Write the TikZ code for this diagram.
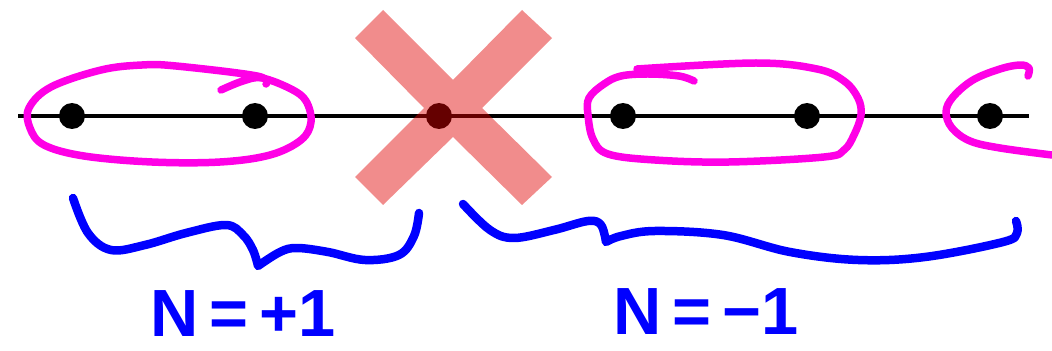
\documentclass[tikz,border=0pt]{standalone}
\usepackage{fontspec}
\setmainfont{Liberation Sans}
\definecolor{penmagenta}{RGB}{255,0,230}
\definecolor{penblue}{RGB}{0,0,255}
\definecolor{crossred}{RGB}{225,0,0}
\begin{document}
\begin{tikzpicture}[
  x=0.02cm, y=-0.02cm,
  axis/.style={draw=black, line width=0.08cm},
  dot/.style={circle, fill=black, inner sep=0pt, minimum size=0.52cm},
  cross/.style={fill=crossred, opacity=0.45},
  lasso/.style={draw=penmagenta, line width=0.15cm, line cap=round, line join=round},
  brace/.style={draw=penblue, line width=0.17cm, line cap=round, line join=round},
  charge/.style={text=penblue, font=\fontsize{38}{38}\selectfont\bfseries, inner sep=0pt}
]
  \useasboundingbox (0,0) rectangle (1052,351);

  % the chain
  \coordinate (left)  at (18,116);
  \coordinate (right) at (1029,116);
  \draw[axis] (left) -- (right);

  \node[dot] (d1) at (72,116)  {};
  \node[dot] (d2) at (255,116) {};
  \node[dot] (d3) at (439,116) {};
  \node[dot] (d4) at (623,116) {};
  \node[dot] (d5) at (807,116) {};
  \node[dot] (d6) at (990,116) {};

  % crossed-out site
  \fill[cross] (355,38) -- (383,10) -- (453,80) -- (522,10) -- (552,38) -- (482,108)
    -- (552,177) -- (522,205) -- (453,137) -- (383,205) -- (355,177) -- (424,108) -- cycle;

  % pairs
  \draw[lasso] plot[smooth, tension=0.6] coordinates {(221,90) (243,81) (262,78) (291,89) (306,101)
    (311,122) (301,140) (270,155) (220,162) (152,162) (84,156) (44,145) (30,128) (29,108)
    (51,87) (101,70) (142,65) (176,66) (257,76) (266,84)};
  \draw[lasso] plot[smooth, tension=0.6] coordinates {(637,69) (756,63) (817,69) (844,81) (858,98)
    (861,115) (854,135) (844,150) (824,157) (729,162) (655,160) (608,154) (593,139) (588,115)
    (589,98) (604,84) (621,76) (648,74) (679,76) (694,81)};
  \draw[lasso] plot[smooth, tension=0.6] coordinates {(1028,76) (1029,68) (1020,65) (1000,69)
    (973,80) (953,97) (946,112) (952,128) (970,141) (1000,148) (1052,155)};

  % braces
  \draw[brace] plot[smooth, tension=0.6] coordinates {(73,198) (88,233) (111,250) (145,245)
    (186,233) (226,225) (243,235) (253,250) (258,266)}
    -- plot[smooth, tension=0.6] coordinates {(258,266) (280,252) (297,248) (328,252) (365,260)
    (399,255) (414,236) (419,213)};
  \draw[brace] plot[smooth, tension=0.6] coordinates {(463,204) (490,230) (514,238) (554,230)
    (588,221) (601,225) (606,242)}
    -- plot[smooth, tension=0.6] coordinates {(606,242) (621,236) (655,231) (723,235) (790,252)
    (858,260) (925,257) (1003,242) (1017,233) (1016,221)};

  \node[charge] (plus)  at (243,314) {N\,=\,+1};
  \node[charge] (minus) at (706,312) {N\,=\,−1};
\end{tikzpicture}
\end{document}
